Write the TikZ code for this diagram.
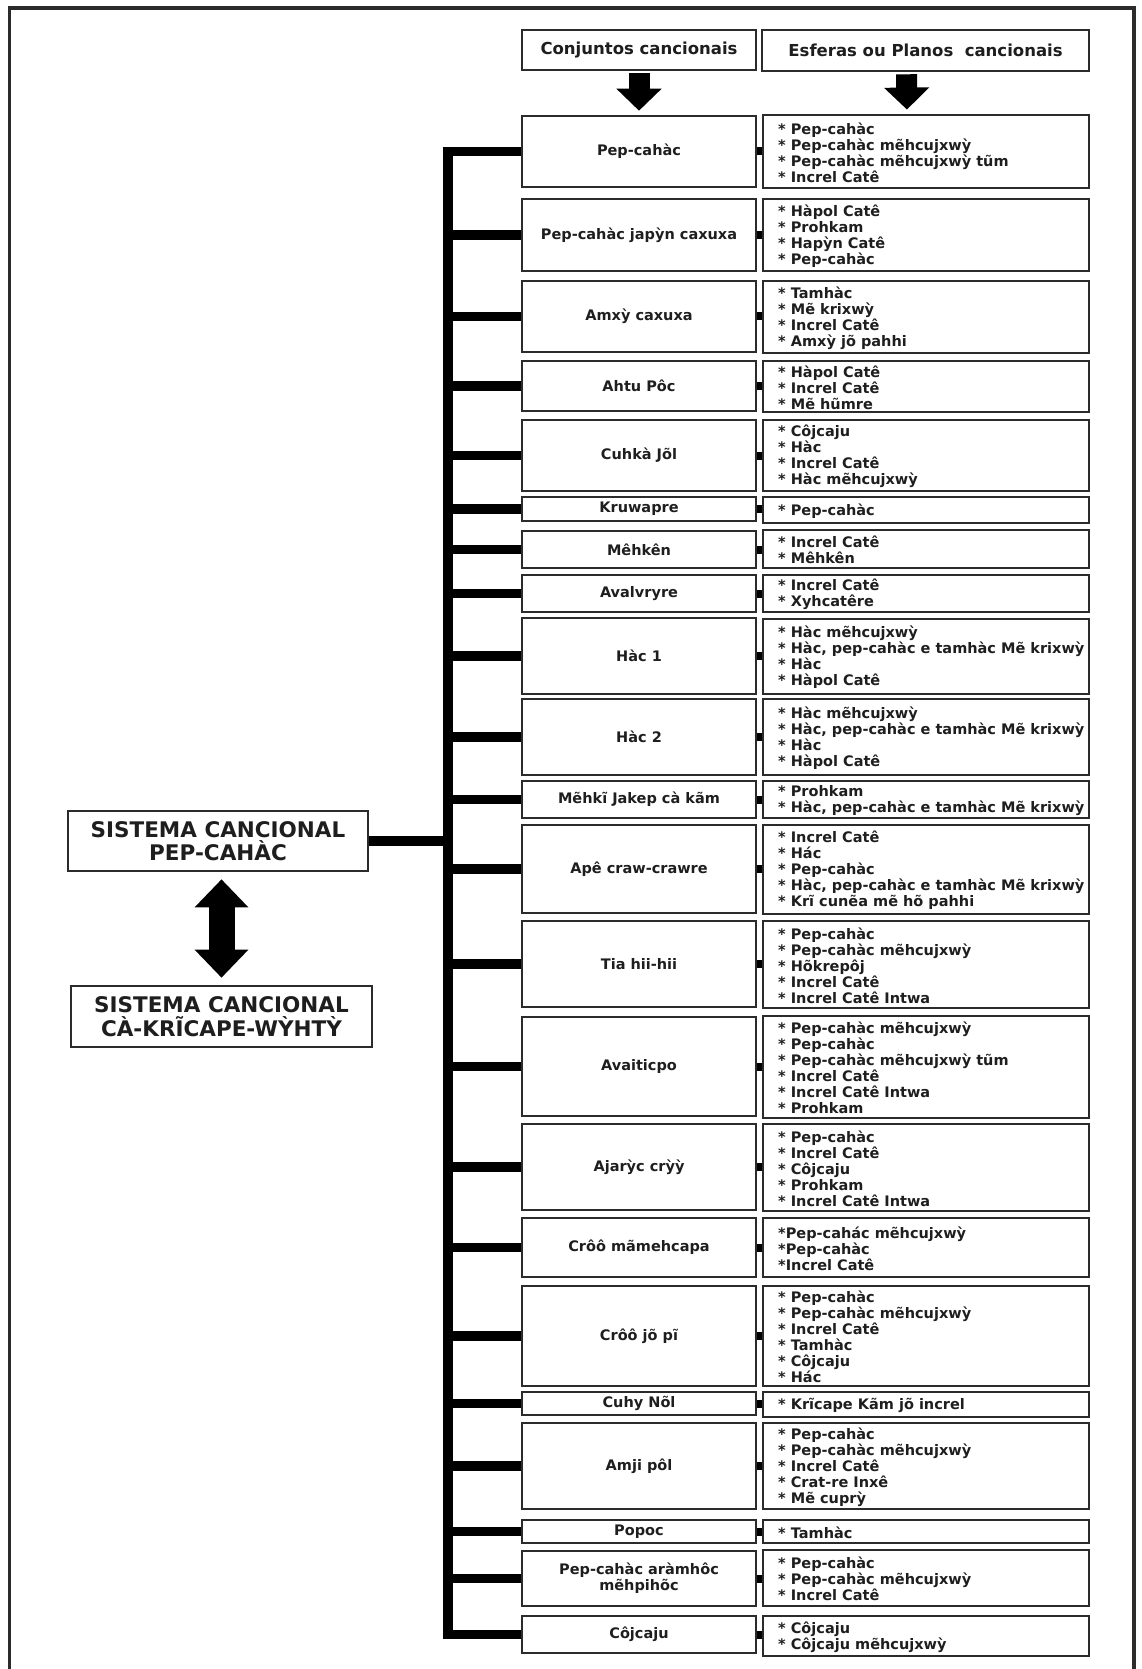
\documentclass[tikz,border=0pt]{standalone}
\usepackage{fontspec}
\setmainfont{DejaVu Sans}
\usetikzlibrary{arrows.meta}
\definecolor{ink}{HTML}{1E1E1E}
\definecolor{edge}{HTML}{2B2B2B}
\tikzset{
  box/.style={draw=edge, fill=white, inner sep=0pt},
  headbox/.style={box, line width=2.6pt, align=center, text=ink,
    font=\bfseries\fontsize{16.5}{19}\selectfont},
  sysbox/.style={box, line width=2.6pt, align=center, text=ink,
    font=\bfseries\fontsize{21.5}{23.5}\selectfont},
  lbox/.style={box, line width=2.6pt, minimum width=234pt, align=center, text=ink,
    font=\bfseries\fontsize{14.5}{16}\selectfont},
  rbox/.style={box, line width=2.9pt, minimum width=326pt},
  rtext/.style={anchor=west, inner sep=0pt, align=left, text=ink,
    font=\bfseries\fontsize{14.5}{16}\selectfont},
  conn/.style={draw=black, line width=9.5pt},
  stub/.style={draw=black, line width=8pt},
  harrow/.style={draw=black, fill=black, line width=21pt,
    -{Triangle[width=44pt,length=22pt]}, shorten <=2pt, shorten >=4pt},
  darrow/.style={draw=black, fill=black, line width=26pt,
    {Triangle[width=52pt,length=28pt]}-{Triangle[width=52pt,length=28pt]},
    shorten <=7pt, shorten >=7pt},
  frameline/.style={draw=edge, line width=3.5pt}
}
% one row: id, left top, left bottom, left text, right top, right bottom, right text
\newcommand\cancrow[7]{%
  \node[lbox, minimum height={#3-#2}] (L#1) at (639,{(#2+#3)/2+1}) {#4};
  \node[rbox, minimum height={#6-#5}] (R#1) at (926,{(#5+#6)/2}) {};
  \node[rtext] (T#1) at (778,{(#5+#6)/2+1}) {#7};
  \draw[conn] (L#1.west -| bus) -- (L#1.west);
  \draw[stub] (L#1.east) -- (L#1.east -| R#1.west);
}
\begin{document}
\begin{tikzpicture}[x=1pt,y=-1pt]
\useasboundingbox (0,0) rectangle (1142,1669);
\fill[white] (0,0) rectangle (1142,1669);
% outer frame, open at the bottom edge of the page
\draw[frameline] (9.5,1700) -- (9.5,8) -- (1134,8) -- (1134,1700);

\coordinate (bus) at (448,0);

% column headings
\node[headbox, minimum width=234pt, minimum height=40pt] (H1) at (639,50) {Conjuntos cancionais};
\node[headbox, minimum width=327pt, minimum height=41pt] (H2) at (925.5,50.5) {Esferas ou Planos~ cancionais};

\cancrow{1}{115}{186}{Pep-cahàc}{115}{188}{* Pep-cahàc\\* Pep-cahàc mẽhcujxwỳ\\* Pep-cahàc mẽhcujxwỳ tũm\\* Increl Catê}
\cancrow{2}{198}{270}{Pep-cahàc japỳn caxuxa}{199}{271}{* Hàpol Catê\\* Prohkam\\* Hapỳn Catê\\* Pep-cahàc}
\cancrow{3}{280}{351}{Amxỳ caxuxa}{281}{353}{* Tamhàc\\* Mẽ krixwỳ\\* Increl Catê\\* Amxỳ jõ pahhi}
\cancrow{4}{360}{410}{Ahtu Pôc}{361}{412}{* Hàpol Catê\\* Increl Catê\\* Mẽ hũmre}
\cancrow{5}{419}{490}{Cuhkà Jõl}{420}{491}{* Côjcaju\\* Hàc\\* Increl Catê\\* Hàc mẽhcujxwỳ}
\cancrow{6}{496}{520}{Kruwapre}{497}{523}{* Pep-cahàc}
\cancrow{7}{530}{567}{Mêhkên}{530}{568}{* Increl Catê\\* Mêhkên}
\cancrow{8}{574}{611}{Avalvryre}{575}{612}{* Increl Catê\\* Xyhcatêre}
\cancrow{9}{617}{693}{Hàc 1}{619}{694}{* Hàc mẽhcujxwỳ\\* Hàc, pep-cahàc e tamhàc Mẽ krixwỳ\\* Hàc\\* Hàpol Catê}
\cancrow{10}{698}{774}{Hàc 2}{699}{775}{* Hàc mẽhcujxwỳ\\* Hàc, pep-cahàc e tamhàc Mẽ krixwỳ\\* Hàc\\* Hàpol Catê}
\cancrow{11}{780}{817}{Mẽhkĩ Jakep cà kãm}{781}{818}{* Prohkam\\* Hàc, pep-cahàc e tamhàc Mẽ krixwỳ}
\cancrow{12}{824}{912}{Apê craw-crawre}{825}{914}{* Increl Catê\\* Hác\\* Pep-cahàc\\* Hàc, pep-cahàc e tamhàc Mẽ krixwỳ\\* Krĩ cunẽa mẽ hõ pahhi}
\cancrow{13}{920}{1006}{Tia hii-hii}{921}{1008}{* Pep-cahàc\\* Pep-cahàc mẽhcujxwỳ\\* Hõkrepôj\\* Increl Catê\\* Increl Catê Intwa}
\cancrow{14}{1016}{1115}{Avaiticpo}{1016}{1118}{* Pep-cahàc mẽhcujxwỳ\\* Pep-cahàc\\* Pep-cahàc mẽhcujxwỳ tũm\\* Increl Catê\\* Increl Catê Intwa\\* Prohkam}
\cancrow{15}{1123}{1209}{Ajarỳc crỳỳ}{1124}{1211}{* Pep-cahàc\\* Increl Catê\\* Côjcaju\\* Prohkam\\* Increl Catê Intwa}
\cancrow{16}{1217}{1276}{Crôô mãmehcapa}{1218}{1277}{*Pep-cahác mẽhcujxwỳ\\*Pep-cahàc\\*Increl Catê}
\cancrow{17}{1285}{1385}{Crôô jõ pĩ}{1286}{1386}{* Pep-cahàc\\* Pep-cahàc mẽhcujxwỳ\\* Increl Catê\\* Tamhàc\\* Côjcaju\\* Hác}
\cancrow{18}{1391}{1414}{Cuhy Nõl}{1392}{1417}{* Krĩcape Kãm jõ increl}
\cancrow{19}{1422}{1508}{Amji pôl}{1423}{1509}{* Pep-cahàc\\* Pep-cahàc mẽhcujxwỳ\\* Increl Catê\\* Crat-re Inxê\\* Mẽ cuprỳ}
\cancrow{20}{1519}{1542}{Popoc}{1520}{1543}{* Tamhàc}
\cancrow{21}{1550}{1605}{Pep-cahàc aràmhôc\\mẽhpihõc}{1550}{1606}{* Pep-cahàc\\* Pep-cahàc mẽhcujxwỳ\\* Increl Catê}
\cancrow{22}{1615}{1652}{Côjcaju}{1616}{1656}{* Côjcaju\\* Côjcaju mẽhcujxwỳ}

% vertical bus joining all rows
\draw[conn, line cap=rect] (L1.west -| bus) -- (L22.west -| bus);

% heading arrows
\draw[harrow] (H1.south) -- (L1.north);
\draw[harrow] ([xshift=-19pt]H2.south) -- ([xshift=-19pt]R1.north);

% the two song systems
\node[sysbox, minimum width=300pt, minimum height=60pt] (S1) at (218,841) {SISTEMA CANCIONAL\\PEP-CAHÀC};
\node[sysbox, minimum width=301pt, minimum height=61pt] (S2) at (221.5,1016.5) {SISTEMA CANCIONAL\\CÀ-KRĨCAPE-WỲHTỲ};
\draw[conn] (S1.east) -- (S1.east -| bus);
\draw[darrow] (S2.north |- S1.south) -- (S2.north);
\end{tikzpicture}
\end{document}
